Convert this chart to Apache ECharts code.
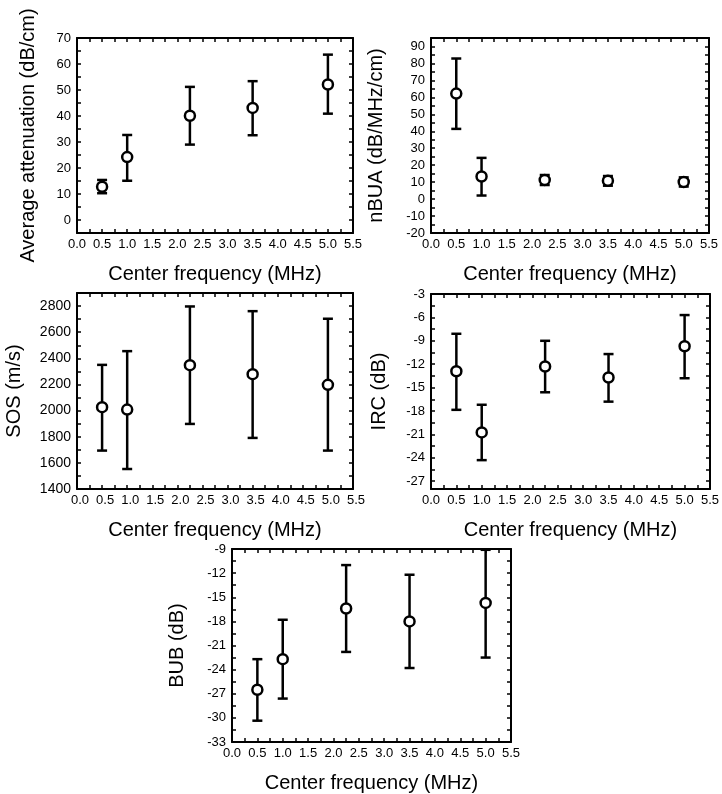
<!DOCTYPE html>
<html>
<head>
<meta charset="utf-8">
<script src="https://cdn.jsdelivr.net/npm/echarts@6/dist/echarts.min.js"></script>
<style>
  html, body { margin: 0; padding: 0; background: #fff; }
  #chart { width: 722px; height: 794px; }
</style>
</head>
<body>
<div id="chart"></div>
<script>
// centre frequencies of the transducers (MHz)
const freq = [0.5, 1.0, 2.25, 3.5, 5.0]

// mean values and the ends of their error bars, one set per panel
const atten = [12.8, 24.2, 40.1, 43.1, 52.1]
const attenLow = [10.3, 15.1, 29.0, 32.6, 40.9]
const attenHigh = [15.4, 32.7, 51.2, 53.4, 63.6]

const nbua = [62.2, 13.3, 11.3, 10.8, 10.1]
const nbuaLow = [41.4, 2.1, 8.3, 7.9, 7.4]
const nbuaHigh = [82.9, 24.3, 14.2, 13.6, 12.8]

const sos = [2026, 2008, 2348, 2279, 2197]
const sosLow = [1694, 1553, 1898, 1791, 1694]
const sosHigh = [2350, 2455, 2797, 2761, 2703]

const irc = [-12.9, -20.75, -12.3, -13.7, -9.7]
const ircLow = [-17.85, -24.3, -15.6, -16.8, -13.8]
const ircHigh = [-8.1, -17.2, -9.0, -10.7, -5.7]

const bub = [-26.5, -22.7, -16.4, -18.0, -15.7]
const bubLow = [-30.35, -27.6, -21.8, -23.8, -22.5]
const bubHigh = [-22.7, -17.8, -11.0, -12.2, -9.1]

// tick labels
const xLabels = [0, 0.5, 1, 1.5, 2, 2.5, 3, 3.5, 4, 4.5, 5, 5.5]
const attenLabels = [0, 10, 20, 30, 40, 50, 60, 70]
const nbuaLabels = [-20, -10, 0, 10, 20, 30, 40, 50, 60, 70, 80, 90]
const sosLabels = [1400, 1600, 1800, 2000, 2200, 2400, 2600, 2800]
const ircLabels = [-27, -24, -21, -18, -15, -12, -9, -6, -3]
const bubLabels = [-33, -30, -27, -24, -21, -18, -15, -12, -9]

const xName = 'Center frequency (MHz)'
const font = '"Liberation Sans", Arial, sans-serif'

// minor ticks sit halfway between labelled ones
function halfSteps(labels, lo, hi) {
  const step = (labels[1] - labels[0]) / 2
  const out = []
  for (let v = labels[0] - step; v <= hi + 1e-9; v += step) {
    if (v >= lo - 1e-9) out.push(+v.toFixed(4))
  }
  return out
}

const panels = [
  { grid: { left: 77, top: 38, width: 276, height: 195 }, y: atten, lo: attenLow, hi: attenHigh,
    min: -5, max: 70, labels: attenLabels, name: 'Average attenuation (dB/cm)', gap: 39, ySize: 13 },
  { grid: { left: 431, top: 38, width: 278, height: 195 }, y: nbua, lo: nbuaLow, hi: nbuaHigh,
    min: -20, max: 95, labels: nbuaLabels, name: 'nBUA (dB/MHz/cm)', gap: 45, ySize: 13 },
  { grid: { left: 77, top: 293, width: 276, height: 196 }, y: sos, lo: sosLow, hi: sosHigh,
    min: 1400, max: 2900, labels: sosLabels, name: 'SOS (m/s)', gap: 53, ySize: 14, xShift: 6 },
  { grid: { left: 431, top: 294, width: 279, height: 195 }, y: irc, lo: ircLow, hi: ircHigh,
    min: -28, max: -3, labels: ircLabels, name: 'IRC (dB)', gap: 42, ySize: 13 },
  { grid: { left: 232, top: 549, width: 279, height: 197 }, y: bub, lo: bubLow, hi: bubHigh,
    min: -33, max: -9, labels: bubLabels, name: 'BUB (dB)', gap: 45, ySize: 13 },
]

const line = { show: true, onZero: false, lineStyle: { color: '#000', width: 2 } }
const tickStyle = { color: '#000', width: 1.5 }
const xTicks = halfSteps(xLabels, 0, 5.5)

const grid = [], xAxis = [], yAxis = [], series = []

panels.forEach((p, i) => {
  grid.push(p.grid)
  const yTicks = halfSteps(p.labels, p.min, p.max)
  // bottom + top x axes, left + right y axes make the closed frame
  xAxis.push({
    type: 'value', gridIndex: i, min: 0, max: 5.5, position: 'bottom',
    axisLine: line, splitLine: { show: false },
    axisTick: { inside: true, length: 4, customValues: xTicks, lineStyle: tickStyle },
    axisLabel: { customValues: xLabels, formatter: v => v.toFixed(1), color: '#000',
      fontFamily: font, fontSize: 13, margin: 5, padding: [0, 0, 0, p.xShift || 0] },
    name: xName, nameLocation: 'middle', nameGap: 31,
    nameTextStyle: { color: '#000', fontFamily: font, fontSize: 20 },
  })
  xAxis.push({
    type: 'value', gridIndex: i, min: 0, max: 5.5, position: 'top',
    axisLine: line, splitLine: { show: false }, axisLabel: { show: false },
    axisTick: { inside: true, length: 4, customValues: xTicks, lineStyle: tickStyle },
  })
  yAxis.push({
    type: 'value', gridIndex: i, min: p.min, max: p.max, position: 'left',
    axisLine: line, splitLine: { show: false },
    axisTick: { inside: true, length: 4, customValues: yTicks, lineStyle: tickStyle },
    axisLabel: { customValues: p.labels, formatter: v => String(v), color: '#000',
      fontFamily: font, fontSize: p.ySize, margin: 6 },
    name: p.name, nameLocation: 'middle', nameGap: p.gap, nameRotate: 90,
    nameTextStyle: { color: '#000', fontFamily: font, fontSize: 20 },
  })
  yAxis.push({
    type: 'value', gridIndex: i, min: p.min, max: p.max, position: 'right',
    axisLine: line, splitLine: { show: false }, axisLabel: { show: false },
    axisTick: { inside: true, length: 4, customValues: yTicks, lineStyle: tickStyle },
  })

  series.push({
    type: 'custom',
    xAxisIndex: i * 2, yAxisIndex: i * 2,
    data: freq.map((f, k) => [f, p.lo[k], p.hi[k]]),
    renderItem: (params, api) => {
      const a = api.coord([api.value(0), api.value(1)])
      const b = api.coord([api.value(0), api.value(2)])
      const cap = 5
      const st = { stroke: '#000', lineWidth: 2.5 }
      return {
        type: 'group',
        children: [
          { type: 'line', shape: { x1: a[0], y1: a[1], x2: b[0], y2: b[1] }, style: st },
          { type: 'line', shape: { x1: a[0] - cap, y1: a[1], x2: a[0] + cap, y2: a[1] }, style: st },
          { type: 'line', shape: { x1: b[0] - cap, y1: b[1], x2: b[0] + cap, y2: b[1] }, style: st },
        ],
      }
    },
    z: 2,
  })
  series.push({
    type: 'scatter',
    xAxisIndex: i * 2, yAxisIndex: i * 2,
    data: freq.map((f, k) => [f, p.y[k]]),
    symbol: 'circle', symbolSize: 10,
    itemStyle: { color: '#fff', borderColor: '#000', borderWidth: 2.5, opacity: 1 },
    z: 3,
  })
})

const chart = echarts.init(document.getElementById('chart'))
chart.setOption({
  animation: false,
  backgroundColor: '#fff',
  grid, xAxis, yAxis, series,
})
</script>
</body>
</html>
